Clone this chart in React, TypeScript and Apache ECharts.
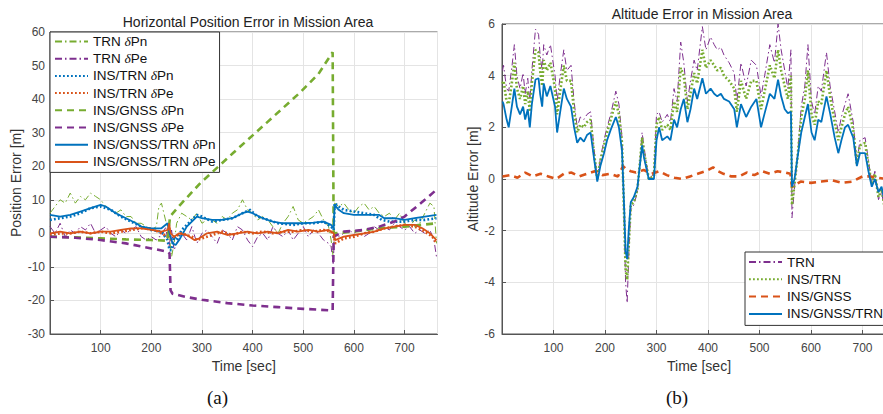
import React, { useEffect, useRef } from "react";
import * as echarts from "echarts";

// ---------- Colours ----------
const GREEN = "#77AC30";
const PURPLE = "#7E2F8E";
const BLUE = "#0072BD";
const ORANGE = "#D95319";

// ---------- (a) Horizontal position error ----------
const trnT = [0,10,20,30,40,50,60,70,80,90,100,110,120,130,140,150,160,170,180,190,200,210,215,220,228,235,240,245,250,
  260,270,280,290,300,310,320,330,340,350,360,370,380,390,400,410,420,430,440,450,460,470,480,490,500,510,520,530,540,550,
  555,559,562,570,580,590,600,610,620,630,640,650,660,670,680,690,700,710,720,730,740,750,758,763];
const trnPn = [6,8,10,9,12,9,11,10,12,11,10,8,7,6,7,5,5,3,3,2,1,2,8,9,4,0,-7,-3,3,
  6,5,4,6,3,4,4,3,5,4,6,7,10,7,6,4,5,4,2,0,3,5,8,4,3,4,5,7,4,2,
  -2,-7,9,8,9,7,6,8,9,7,8,6,5,6,4,6,3,2,4,3,6,9,8,-3];
const trnPe = [2,0,3,-1,1,0,2,1,3,0,1,2,0,-1,1,0,1,2,-1,-2,-1,-2,-1,-1,2,-4,1,-5,-3,
  0,-2,2,-3,0,1,-1,-3,1,0,-2,2,1,-2,-4,-1,0,-2,2,0,-1,1,-2,0,2,-1,1,0,-2,-3,
  -4,-9,0,-1,0,1,0,1,-1,0,2,1,2,1,3,2,1,2,0,1,0,1,-2,-7];

const insTrnPnT = [0,20,40,60,80,100,120,140,160,180,200,220,232,236,240,245,250,260,280,290,300,320,340,360,380,395,410,430,450,480,500,520,540,555,560,562,570,580,600,620,640,655,670,700,720,740,763];
const insTrnPn = [4,4.5,5,6,7.5,8,7,5,3.5,2,1,0.5,-2,-5,-5,-1,-2,1,4,5.5,5,3.5,4,4.5,6,7,5,4,3,2.5,3,3,3.5,2,1,9,8,7,6.5,6,5.5,4,3.5,3.5,4,4,4.5];

const insTrnPeT = [0,20,40,60,80,100,120,140,160,180,200,220,232,235,238,245,260,280,290,300,320,340,360,380,400,420,440,460,480,500,520,540,555,560,563,580,600,620,640,660,680,700,720,740,755,763];
const insTrnPe = [-0.5,0,0,0.5,0,0.5,0,0.5,1,1.5,1.5,0,-1,2,-2,-1,0,-1,-2,-1.5,-0.5,0.5,-0.5,0.5,0,0.5,0,0.5,0.5,1,0.5,1,0.5,-0.5,-3,-1.5,-1,0,0.5,1.5,2,2.5,2,0.5,-1,-3];

const gnssPnT = [0,50,100,150,200,232,237,257,297,362,428,494,530,558,560,600,650,700,763];
const gnssPn = [-1,-1.2,-1.5,-1.8,-2,-2.2,5,8.5,15,24,33,42,47.5,54,0,0.5,1.5,2,3];

const gnssPeT = [0,50,100,150,200,233,236,238,242,270,300,350,400,450,500,558,560,580,620,650,680,700,720,740,763];
const gnssPe = [-1,-1.3,-2,-3,-4.5,-5.5,-6,-17,-18,-19,-19.8,-20.8,-21.5,-22,-22.5,-23,-1,0.5,1,2,3.5,5,7.5,10,13];

const fusedPnT = [0,20,40,60,80,100,110,130,150,170,180,200,220,232,236,242,248,255,270,290,300,320,340,360,380,390,400,420,440,460,480,500,520,540,555,560,562,570,580,600,620,640,650,660,680,700,720,740,763];
const fusedPn = [5.5,5,5.5,6.5,7.5,8.5,8,6,4.5,3,2,1.5,1.5,3,0,-3,-3.5,-2,2,5,4.5,4,4,4.5,6,6.5,6,4.5,3.5,3,3,3,3.2,3.5,2.5,1.5,8.5,7,6,5.5,5.5,5.5,5.5,4.5,4.5,4,4.5,5,5.5];

const fusedPeT = [0,20,40,60,80,100,120,140,160,180,200,220,233,235,238,245,255,270,285,295,310,330,350,370,390,410,430,450,470,490,510,530,550,560,563,580,600,620,640,660,680,700,720,735,750,763];
const fusedPe = [0,0.5,0,0.5,0,0.5,0.5,1,1.5,1.5,1,0.5,1,3,0,-1,0,-0.5,-2,-1.5,0,0.5,-0.5,0,0.5,0,0.5,0,1,0.5,1,0.5,1,0,-2,-1,-0.5,0,0.5,1.5,2,2.5,2.5,1.5,0,-2];

// ---------- (b) Altitude error ----------
const altT = [1,3,9,13,19,24,29,35,41,45,50,54,58,65,71,74,78,81,87,94,103,107,113,120,126,134,140,146,152,159,165,172,178,185,191,198,204,211,221,227,233,237,240,243,246,250,256,263,269,272,276,285,295,300,305,311,321,327,334,340,347,353,360,366,373,379,389,396,405,412,418,425,431,441,451,456,464,474,484,494,503,510,520,529,536,542,549,555,561,563,568,575,581,588,594,601,607,614,620,630,637,646,653,659,666,672,682,689,695,705,711,718,724,731,737,742,750,758,765];
const altTrn = [4.2,4.4,3.5,3.4,4.3,5.2,4.0,3.5,4.1,3.3,3.9,3.0,4.2,5.8,5.6,4.8,4.2,5.2,4.8,5.2,4.0,3.0,4.0,5.0,4.2,4.4,3.0,2.0,2.4,2.3,2.5,2.6,1.3,0.0,0.8,1.5,2.0,2.5,3.4,2.9,1.6,-1.5,-4.0,-4.8,-3.0,-1.2,-1.0,-0.5,1.0,1.8,1.2,0.0,0.2,2.5,2.6,2.2,2.5,2.2,3.5,3.0,5.3,4.5,3.0,3.8,4.6,4.2,5.9,5.0,5.5,5.2,5.0,5.1,4.8,4.5,4.1,3.0,4.5,3.6,4.6,4.4,3.2,4.0,5.2,4.5,6.0,5.0,4.2,3.5,5.0,-1.5,-0.3,1.2,2.8,3.6,5.2,3.0,2.5,3.6,3.4,4.9,3.6,2.6,1.8,2.4,2.9,3.3,2.2,0.6,1.5,1.6,0.8,-0.2,0.3,-0.8,-0.5,-1.1,-0.7,-1.0,-0.8];
const altInsTrn = [3.7,3.8,3.0,2.9,3.7,4.5,3.5,3.1,3.6,2.9,3.4,2.6,3.7,5.0,4.9,4.2,3.6,4.6,4.2,4.5,3.5,2.5,3.4,4.4,3.8,3.8,2.6,1.8,2.1,2.0,2.2,2.3,1.1,0.0,0.7,1.3,1.8,2.3,3.0,2.5,1.4,-1.3,-3.5,-3.9,-2.6,-1.0,-0.9,-0.4,0.9,1.6,1.0,0.0,0.1,2.1,2.4,1.9,2.1,1.9,3.0,2.6,4.3,4.0,2.7,3.3,4.1,3.7,5.0,4.3,4.6,4.4,4.2,4.3,4.0,3.8,3.5,2.6,3.8,3.1,3.8,3.8,2.7,3.4,4.4,3.9,5.0,4.2,3.6,3.1,4.0,-1.0,-0.2,1.1,2.4,3.1,4.2,2.5,2.1,3.0,2.9,4.2,3.2,2.2,1.5,2.0,2.5,2.8,1.9,0.6,1.3,1.4,0.6,-0.2,0.2,-0.7,-0.4,-1.0,-0.6,-0.9,-0.7];
const altFused = [3.0,2.9,2.3,2.0,2.8,3.5,2.8,2.5,2.8,2.3,2.7,2.0,2.9,3.85,3.9,3.3,2.8,3.7,3.2,3.6,2.8,1.8,2.6,3.5,3.1,2.8,2.0,1.4,1.6,1.45,1.7,1.8,0.9,-0.1,0.5,1.0,1.5,1.9,2.4,2.0,1.1,-1.0,-2.8,-3.1,-2.0,-0.9,-0.7,-0.3,0.75,1.3,0.8,0.0,0.0,1.5,2.0,1.5,1.65,1.5,2.3,2.0,2.7,3.1,2.2,2.7,3.5,3.1,3.9,3.3,3.5,3.3,3.2,3.3,3.1,3.0,2.7,2.0,2.9,2.4,2.8,3.1,2.0,2.55,3.3,3.1,3.85,3.2,2.7,2.55,2.6,-0.3,0.0,1.0,1.8,2.4,2.9,1.8,1.5,2.3,2.2,3.2,2.55,1.6,1.0,1.5,2.0,2.1,1.6,0.5,1.0,1.0,0.35,-0.3,0.0,-0.5,-0.3,-0.8,-0.5,-0.8,-0.6];

const altGnssT = [1,15,30,45,60,75,90,105,120,135,150,165,180,195,210,225,235,240,250,260,275,290,305,320,335,350,365,380,395,410,420,430,445,460,475,490,505,520,535,550,560,563,580,600,620,640,660,680,700,715,730,745,765];
const altGnss = [0.1,0.15,0.05,0.25,0.1,0.2,0.1,0.0,0.2,0.25,0.1,0.2,0.3,0.15,0.2,0.1,0.5,0.4,0.3,0.25,0.35,0.2,0.3,0.15,0.05,0.0,0.1,0.2,0.3,0.45,0.3,0.2,0.1,0.1,0.25,0.15,0.3,0.2,0.3,0.25,0.2,-0.3,-0.1,-0.15,-0.1,-0.05,-0.15,-0.1,0.1,0.1,0.05,0.0,-0.05];

const xTicksMin = 0;
const xTicksMax = 765;

const zip = (t: number[], v: number[]) => t.map((x, i) => [x, v[i]]);

const FONT = "Liberation Sans";
const DASHDOT = [7, 3, 1.5, 3];
const DOTTED = [1.8, 2.2];
const DASHED = [7, 5];

function line(name: string, data: number[][], color: string, type: any, width: number, xi: number, z: number) {
  return {
    type: "line",
    name,
    data,
    xAxisIndex: xi,
    yAxisIndex: xi,
    showSymbol: false,
    symbol: "none",
    z,
    lineStyle: { color, width, type, cap: "butt" },
    itemStyle: { color },
    emphasis: { disabled: true },
  };
}

function xAxis(gi: number) {
  return {
    type: "value",
    gridIndex: gi,
    min: xTicksMin,
    max: xTicksMax,
    interval: 100,
    name: "Time [sec]",
    nameLocation: "middle",
    nameGap: 24,
    nameTextStyle: { fontFamily: FONT, fontSize: 14, color: "#333" },
    axisLine: { show: true, onZero: false, lineStyle: { color: "#555", width: 1 } },
    axisTick: { show: true, inside: true, length: 4, lineStyle: { color: "#555" } },
    axisLabel: {
      fontFamily: FONT,
      fontSize: 12,
      color: "#444",
      margin: 8,
      showMaxLabel: false,
      formatter: (v: number) => (v === 0 || v > 700 ? "" : String(v)),
    },
    splitLine: { show: true, lineStyle: { color: "#e4e4e4", width: 1 } },
  };
}

function yAxis(gi: number, min: number, max: number, interval: number, name: string, margin: number, nameGap: number) {
  return {
    type: "value",
    gridIndex: gi,
    min,
    max,
    interval,
    name,
    nameLocation: "middle",
    nameGap,
    nameTextStyle: { fontFamily: FONT, fontSize: 14, color: "#333" },
    axisLine: { show: true, onZero: false, lineStyle: { color: "#555", width: 1 } },
    axisTick: { show: true, inside: true, length: 4, lineStyle: { color: "#555" } },
    axisLabel: { fontFamily: FONT, fontSize: 12, color: "#444", margin },
    splitLine: { show: true, lineStyle: { color: "#e4e4e4", width: 1 } },
  };
}

const legendText = {
  fontFamily: FONT,
  fontSize: 13.5,
  color: "#111",
  lineHeight: 17,
  rich: {
    d: { fontFamily: "Liberation Serif", fontStyle: "italic", fontSize: 13.5, color: "#111", lineHeight: 17 },
  },
};

const legendCommon = {
  orient: "vertical",
  itemWidth: 33,
  itemHeight: 12,
  backgroundColor: "#fff",
  borderColor: "#333",
  borderWidth: 1,
  borderRadius: 0,
  selectedMode: false,
  textStyle: legendText,
  itemStyle: { color: "transparent", borderColor: "transparent", borderWidth: 0, opacity: 0 },
};

export default function App() {
  const ref = useRef<HTMLDivElement>(null);
  useEffect(() => {
    if (!ref.current) return;
    const chart = echarts.init(ref.current, undefined, { renderer: "svg" });
    chart.setOption({
      animation: false,
      backgroundColor: "#ffffff",
      title: [
        {
          text: "Horizontal Position Error in Mission Area",
          left: 243,
          top: 10,
          textAlign: "center",
          textStyle: { fontFamily: FONT, fontSize: 14, fontWeight: "normal", color: "#222" },
        },
        {
          text: "Altitude Error in Mission Area",
          left: 697,
          top: 2,
          textAlign: "center",
          textStyle: { fontFamily: FONT, fontSize: 14, fontWeight: "normal", color: "#222" },
        },
      ],
      grid: [
        { left: 50, top: 32, width: 387.5, height: 302, show: true, borderColor: "#555", borderWidth: 1, backgroundColor: "#fff" },
        { left: 502, top: 24, width: 394, height: 310, show: true, borderColor: "#555", borderWidth: 1, backgroundColor: "#fff" },
      ],
      xAxis: [xAxis(0), xAxis(1)],
      yAxis: [
        yAxis(0, -30, 60, 10, "Position Error [m]", 5, 27),
        yAxis(1, -6, 6, 2, "Altitude Error [m]", 7, 19),
      ],
      legend: [
        {
          ...legendCommon,
          left: 50,
          top: 32,
          itemGap: 0.2,
          padding: [1, 4, 2, 4],
          formatter: (n: string) => n.replace("δ", "{d|δ}"),
          data: [
            "TRN δPn", "TRN δPe", "INS/TRN δPn", "INS/TRN δPe",
            "INS/GNSS δPn", "INS/GNSS δPe", "INS/GNSS/TRN δPn", "INS/GNSS/TRN δPe",
          ],
        },
        {
          ...legendCommon,
          left: 745,
          top: 252,
          itemGap: 0.3,
          padding: [1.5, 3, 3, 3],
          data: ["TRN", "INS/TRN", "INS/GNSS", "INS/GNSS/TRN"],
        },
      ],
      graphic: [
        { type: "text", left: 207, top: 388, style: { text: "(a)", fontFamily: "Liberation Serif", fontSize: 19, fill: "#111" } },
        { type: "text", left: 666, top: 388, style: { text: "(b)", fontFamily: "Liberation Serif", fontSize: 19, fill: "#111" } },
      ],
      series: [
        line("TRN δPn", zip(trnT, trnPn), GREEN, DASHDOT, 1, 0, 1),
        line("TRN δPe", zip(trnT, trnPe), PURPLE, DASHDOT, 1, 0, 2),
        line("INS/TRN δPn", zip(insTrnPnT, insTrnPn), BLUE, DOTTED, 2.6, 0, 3),
        line("INS/TRN δPe", zip(insTrnPeT, insTrnPe), ORANGE, DOTTED, 2.6, 0, 4),
        line("INS/GNSS δPn", zip(gnssPnT, gnssPn), GREEN, DASHED, 2.6, 0, 5),
        line("INS/GNSS δPe", zip(gnssPeT, gnssPe), PURPLE, DASHED, 2.6, 0, 6),
        line("INS/GNSS/TRN δPn", zip(fusedPnT, fusedPn), BLUE, "solid", 1.8, 0, 7),
        line("INS/GNSS/TRN δPe", zip(fusedPeT, fusedPe), ORANGE, "solid", 1.8, 0, 8),
        line("TRN", zip(altT, altTrn), PURPLE, DASHDOT, 1, 1, 1),
        line("INS/TRN", zip(altT, altInsTrn), GREEN, DOTTED, 2.6, 1, 2),
        line("INS/GNSS", zip(altGnssT, altGnss), ORANGE, DASHED, 2.6, 1, 3),
        line("INS/GNSS/TRN", zip(altT, altFused), BLUE, "solid", 1.8, 1, 4),
      ],
    });
    return () => chart.dispose();
  }, []);
  return (
    <div style={{ position: "fixed", left: 0, top: 0, width: 883, height: 414, overflow: "hidden", background: "#fff" }}>
      <div ref={ref} style={{ width: 900, height: 414 }} />
    </div>
  );
}
